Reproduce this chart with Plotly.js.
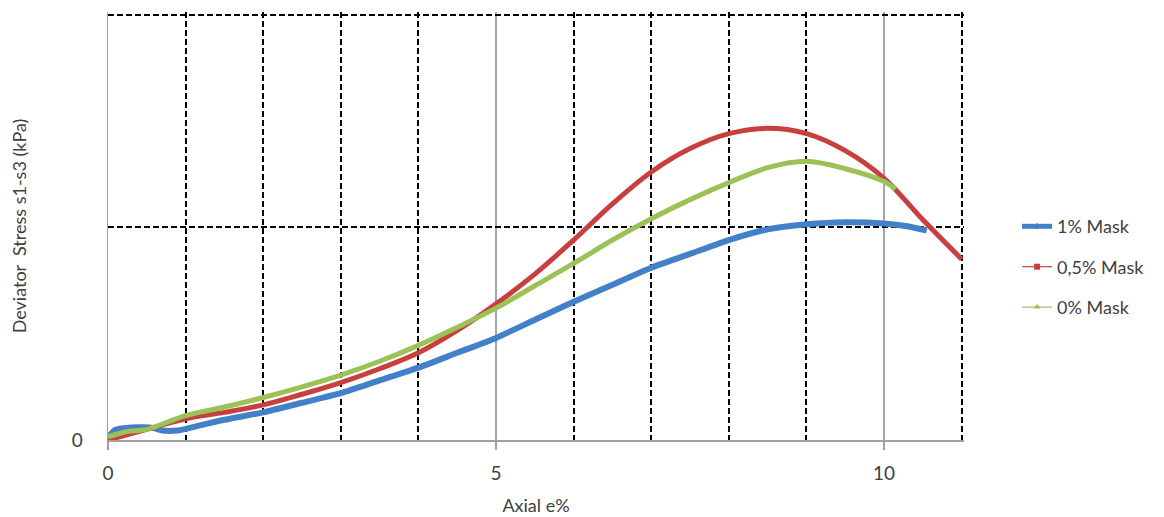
<!DOCTYPE html>
<html>
<head>
<meta charset="utf-8">
<script src="https://cdn.plot.ly/plotly-3.0.1.min.js"></script>
<style>html,body{margin:0;padding:0;background:#fff;}#chart{width:1164px;height:517px;}</style>
</head>
<body>
<div id="chart"></div>
<script>
// Axial strain (%) and deviator stress (relative units)
const strainBlue = [0, 0.08, 0.2, 0.45, 0.6, 0.7, 0.9, 1.2, 1.5, 2, 2.5, 3, 3.5, 4, 4.5, 5, 5.5, 6, 6.5, 7, 7.5, 8, 8.5, 9, 9.5, 10, 10.3, 10.55];
const stressBlue = [0.01, 0.045, 0.055, 0.06, 0.055, 0.045, 0.045, 0.07, 0.095, 0.13, 0.175, 0.22, 0.28, 0.34, 0.41, 0.48, 0.565, 0.65, 0.73, 0.81, 0.875, 0.94, 0.99, 1.014, 1.024, 1.018, 1.005, 0.985];

const strainRed = [0, 0.5, 1, 1.5, 2, 2.5, 3, 3.5, 4, 4.5, 5, 5.5, 6, 6.5, 7, 7.5, 8, 8.5, 9, 9.5, 10, 10.5, 11];
const stressRed = [0.0, 0.05, 0.10, 0.13, 0.165, 0.215, 0.27, 0.335, 0.41, 0.515, 0.64, 0.78, 0.94, 1.11, 1.26, 1.37, 1.44, 1.465, 1.44, 1.36, 1.23, 1.035, 0.85];

const strainGreen = [0, 0.25, 0.5, 1, 1.5, 2, 2.5, 3, 3.5, 4, 4.5, 5, 5.5, 6, 6.5, 7, 7.5, 8, 8.5, 9, 9.5, 10, 10.15];
const stressGreen = [0.015, 0.04, 0.05, 0.115, 0.155, 0.20, 0.25, 0.305, 0.37, 0.445, 0.53, 0.62, 0.725, 0.83, 0.94, 1.04, 1.13, 1.21, 1.28, 1.31, 1.275, 1.215, 1.18];

const seriesNames = ['1% Mask', '0,5% Mask', '0% Mask'];
const colors = ['#4280c8', '#c8403e', '#9bc256'];

const xMajorTicks = [0, 5, 10];
const xMinorTicks = [1, 2, 3, 4, 6, 7, 8, 9, 11];
const yTicks = [0, 1, 2];
const yTickText = ['0', '', ''];

const FONT = 'Lato, "Open Sans", "Liberation Sans", sans-serif';

const traces = [
  {x: strainBlue, y: stressBlue, mode: 'lines', line: {color: colors[0], width: 6, shape: 'spline', smoothing: 0.6}, showlegend: false, hoverinfo: 'skip'},
  {x: strainRed, y: stressRed, mode: 'lines', line: {color: colors[1], width: 5, shape: 'spline'}, showlegend: false, hoverinfo: 'skip'},
  {x: strainGreen, y: stressGreen, mode: 'lines', line: {color: colors[2], width: 5, shape: 'spline'}, showlegend: false, hoverinfo: 'skip'},
  // legend-only entries
  {x: [null], y: [null], name: seriesNames[0], legendgroup: 'a', mode: 'lines+markers', line: {color: colors[0], width: 5}, marker: {symbol: 'diamond', size: 5, color: colors[0]}},
  {x: [null], y: [null], name: seriesNames[1], legendgroup: 'b', mode: 'lines+markers', line: {color: colors[1], width: 1.2}, marker: {symbol: 'square', size: 6, color: colors[1]}},
  {x: [null], y: [null], name: seriesNames[2], legendgroup: 'c', mode: 'lines+markers', line: {color: colors[2], width: 1.2}, marker: {symbol: 'triangle-up', size: 6, color: colors[2]}}
];

const layout = {
  width: 1164, height: 517,
  margin: {l: 108, r: 200, t: 12, b: 77, pad: 0},
  paper_bgcolor: '#ffffff', plot_bgcolor: '#ffffff',
  font: {family: FONT, color: '#404040'},
  showlegend: true,
  legend: {x: 1.062, xanchor: 'left', y: 0.404, yanchor: 'middle', itemwidth: 30, font: {size: 18, color: '#404040', family: FONT}, tracegroupgap: 14, bgcolor: 'rgba(0,0,0,0)', borderwidth: 0},
  xaxis: {
    range: [0, 11.03], tickmode: 'array', tickvals: xMajorTicks,
    ticks: 'outside', ticklen: 8, tickcolor: '#a0a0a0', tickwidth: 1.5,
    tickfont: {size: 19, color: '#404040'}, ticklabelstandoff: 8,
    showgrid: true, gridcolor: '#a6a6a6', gridwidth: 1.5,
    minor: {tickmode: 'array', tickvals: xMinorTicks, showgrid: true, gridcolor: '#000000', gridwidth: 2, griddash: '6px,3px', ticks: ''},
    zeroline: true, zerolinecolor: '#a0a0a0', zerolinewidth: 1.5,
    showline: true, linecolor: '#a0a0a0', linewidth: 1.5,
    title: {text: 'Axial e%', font: {size: 18, color: '#404040'}, standoff: 16}
  },
  yaxis: {
    range: [0, 2.012], tickmode: 'array', tickvals: yTicks, ticktext: yTickText,
    ticks: '', tickfont: {size: 19, color: '#404040'}, ticklabelstandoff: 20,
    showgrid: true, gridcolor: '#000000', gridwidth: 2, griddash: '6px,3px',
    zeroline: true, zerolinecolor: '#a0a0a0', zerolinewidth: 1.5,
    showline: true, linecolor: '#a0a0a0', linewidth: 1.5,
    title: {text: 'Deviator  Stress s1-s3 (kPa)', font: {size: 18, color: '#404040'}, standoff: 40}
  }
};

Plotly.newPlot('chart', traces, layout, {staticPlot: true, displayModeBar: false});
</script>
</body>
</html>
